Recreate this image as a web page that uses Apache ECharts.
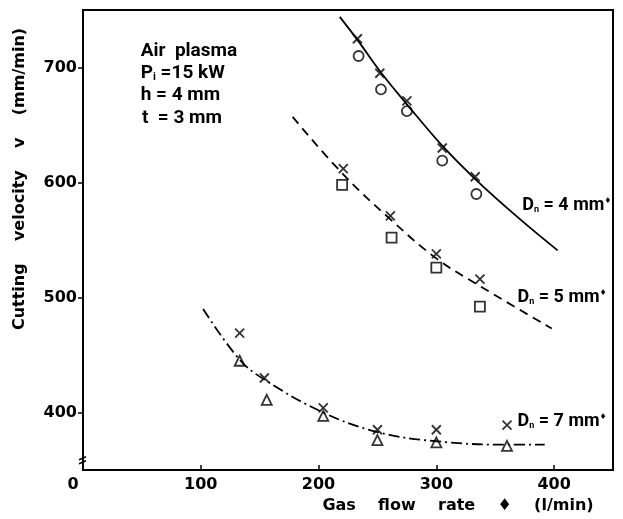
<!DOCTYPE html>
<html>
<head>
<meta charset="utf-8">
<script src="https://cdn.jsdelivr.net/npm/echarts@6/dist/echarts.min.js"></script>
<style>
html, body { margin: 0; padding: 0; background: #fff; }
#chart { width: 623px; height: 519px; }
</style>
</head>
<body>
<div id="chart"></div>
<script>
//刻度
const xTicks = [0, 100, 200, 300, 400];
const yTicks = [400, 500, 600, 700];

//Dn = 4 mm
const x4Cross = [233, 252, 275, 305, 333];
const v4Cross = [725, 695, 671, 630, 605];
const x4Circle = [234, 253, 275, 305, 334];
const v4Circle = [710, 681, 662, 619, 590];
const x4Curve = [218, 233, 252, 275, 305, 333, 370, 403];
const v4Curve = [744, 724, 697, 668, 632, 603, 569, 541];

//Dn = 5 mm
const x5Cross = [221, 261, 300, 337];
const v5Cross = [612, 571, 538, 516];
const x5Square = [220, 262, 300, 337];
const v5Square = [598, 552, 526, 492];
const x5Curve = [178, 221, 261, 300, 337, 398];
const v5Curve = [657, 607, 568, 534, 510, 473];

//Dn = 7 mm
const x7Cross = [133, 154, 204, 250, 300, 360];
const v7Cross = [469, 430, 404, 385, 385, 389];
const x7Tri = [133, 156, 204, 250, 300, 360];
const v7Tri = [445, 411, 397, 376, 374, 371];
const x7Curve = [102, 133, 155, 204, 250, 300, 360, 392];
const v7Curve = [490, 446, 428, 400, 383, 375, 372, 372];

const font = 'DejaVu Sans';
const font2 = 'Roboto';
const crossPath = 'path://M0,0L10,10M10,0L0,10';

function pairs(xs, ys) {
    return xs.map(function (x, i) { return [x, ys[i]]; });
}

function curve(name, xs, ys, type) {
    return {
        name: name,
        type: 'line',
        smooth: 0.4,
        showSymbol: false,
        silent: true,
        lineStyle: { color: '#000', width: 1.8, type: type },
        data: pairs(xs, ys)
    };
}

function marks(name, xs, ys, symbol, size) {
    return {
        name: name,
        type: 'scatter',
        symbol: symbol,
        symbolSize: size,
        itemStyle: { color: symbol.indexOf('path') === 0 ? 'transparent' : '#fff', borderColor: '#000', borderWidth: 1.8 },
        data: pairs(xs, ys)
    };
}

let chart = echarts.init(document.getElementById('chart'));
let option = {
    animation: false,
    grid: { left: 83, right: 10, top: 10, bottom: 49, show: true, borderColor: '#000', borderWidth: 2 },
    xAxis: {
        type: 'value', min: 0, max: 450,
        axisLine: { lineStyle: { color: '#000', width: 2 } },
        axisTick: { inside: true, length: 5, lineStyle: { color: '#000', width: 1.5 }, customValues: xTicks },
        axisLabel: {
            customValues: xTicks, margin: 7, color: '#000',
            fontFamily: font, fontWeight: 'bold', fontSize: 16,
            formatter: function (v) { return v === 0 ? '{z|0}' : String(v); },
            rich: { z: { padding: [0, 20, 0, 0], fontFamily: font, fontWeight: 'bold', fontSize: 16, color: '#000' } }
        },
        splitLine: { show: false }
    },
    yAxis: {
        type: 'value', min: 350, max: 750,
        axisLine: { lineStyle: { color: '#000', width: 2 } },
        axisTick: { length: 5, lineStyle: { color: '#000', width: 1.5 }, customValues: yTicks },
        axisLabel: { customValues: yTicks, margin: 6, color: '#000', fontFamily: font, fontWeight: 'bold', fontSize: 16 },
        splitLine: { show: false }
    },
    series: [
        curve('4 mm', x4Curve, v4Curve, 'solid'),
        curve('5 mm', x5Curve, v5Curve, [9, 6]),
        curve('7 mm', x7Curve, v7Curve, [11, 4, 2, 4]),
        marks('4 mm x', x4Cross, v4Cross, crossPath, 9),
        marks('4 mm o', x4Circle, v4Circle, 'circle', 10),
        marks('5 mm x', x5Cross, v5Cross, crossPath, 9),
        marks('5 mm s', x5Square, v5Square, 'rect', 10),
        marks('7 mm x', x7Cross, v7Cross, crossPath, 9),
        marks('7 mm t', x7Tri, v7Tri, 'triangle', 10)
    ]
};
chart.setOption(option);

//注释文字
function at(x, v) { return chart.convertToPixel({ gridIndex: 0 }, [x, v]); }
const txt = { fill: '#000', fontFamily: font2, fontWeight: 'bold', fontSize: 19 };
function text(x, v, s, extra) {
    let p = at(x, v);
    return { type: 'text', x: p[0], y: p[1], style: Object.assign({ text: s, textVerticalAlign: 'middle' }, txt, extra || {}) };
}
function dLabel(x, v, s) {
    let p = at(x, v);
    return {
        type: 'text', x: p[0], y: p[1],
        style: {
            text: '{d|D}{n|n}{d| = ' + s + ' mm}{p|♦}', textVerticalAlign: 'middle',
            rich: {
                d: { fill: '#000', fontFamily: font2, fontSize: 18, fontWeight: 'bold' },
                n: { fill: '#000', fontFamily: font2, fontSize: 9, fontWeight: 'bold', verticalAlign: 'bottom' },
                p: { fill: '#000', fontFamily: font, fontSize: 8, verticalAlign: 'top' }
            }
        }
    };
}
let b = at(0, 358);
chart.setOption({
    graphic: [
        text(49, 714, 'Air  plasma'),
        {
            type: 'text', x: at(49, 695)[0], y: at(49, 695)[1],
            style: {
                text: '{a|P}{i|i}{a| =15 kW}', textVerticalAlign: 'middle',
                rich: {
                    a: { fill: '#000', fontFamily: font2, fontSize: 19, fontWeight: 'bold' },
                    i: { fill: '#000', fontFamily: font2, fontSize: 11, fontWeight: 'bold', verticalAlign: 'bottom' }
                }
            }
        },
        text(49, 676, 'h = 4 mm'),
        text(50, 656, 't  = 3 mm'),
        dLabel(373, 580, '4'),
        dLabel(369, 500, '5'),
        dLabel(369, 392, '7'),
        { type: 'text', x: 458, y: 506, style: Object.assign({ text: 'Gas    flow    rate    ♦    (l/min)', textAlign: 'center', textVerticalAlign: 'middle' }, txt, { fontFamily: font, fontSize: 16 }) },
        { type: 'text', x: 20, y: 179, rotation: Math.PI / 2, style: Object.assign({ text: 'Cutting    velocity    v    (mm/min)', textAlign: 'center', textVerticalAlign: 'middle' }, txt, { fontFamily: font, fontSize: 16 }) },
        { type: 'line', shape: { x1: b[0] - 4, y1: b[1] - 1, x2: b[0] + 3, y2: b[1] - 4 }, style: { stroke: '#000', lineWidth: 1.5 } },
        { type: 'line', shape: { x1: b[0] - 4, y1: b[1] + 3, x2: b[0] + 3, y2: b[1] }, style: { stroke: '#000', lineWidth: 1.5 } }
    ]
});

window.addEventListener("resize", function () {
    chart.resize();
});
</script>
</body>
</html>
